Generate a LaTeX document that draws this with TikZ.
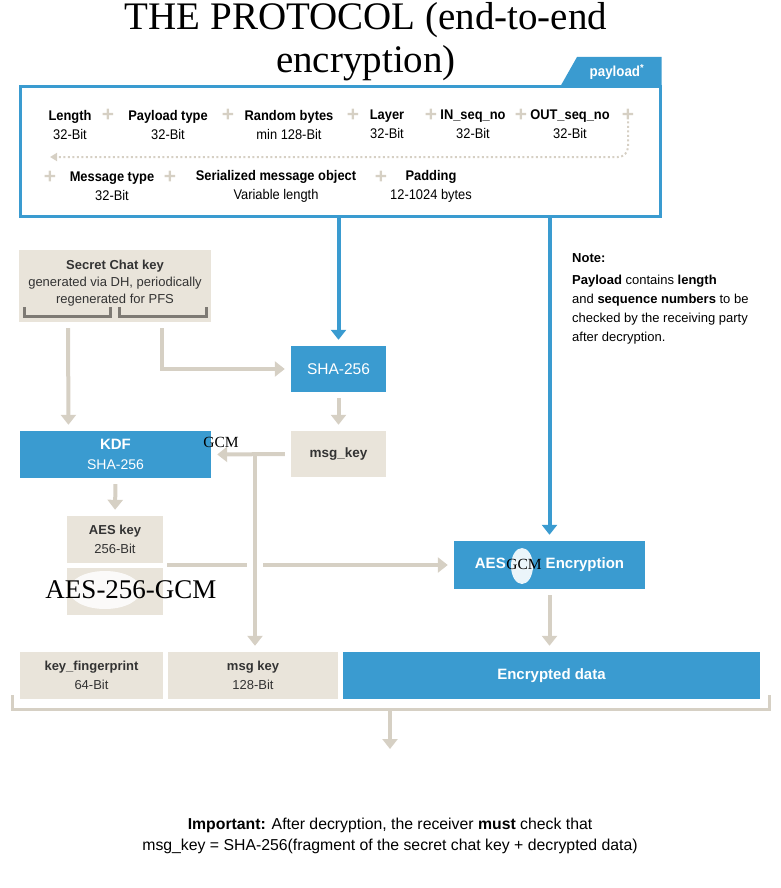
\documentclass[tikz,border=0pt]{standalone}
\usepackage{fontspec}
\setmainfont{Liberation Sans}
\newfontfamily\condfont[FakeStretch=0.92]{Liberation Sans}
\newfontfamily\seriffont{Liberation Serif}
\usetikzlibrary{arrows.meta}
\definecolor{tgblue}{HTML}{3A9BD0}
\definecolor{boxbeige}{HTML}{E9E4DA}
\definecolor{linebeige}{HTML}{D6D0C4}
\definecolor{bracketgray}{HTML}{7E7A74}
\definecolor{textdark}{HTML}{333333}
\tikzset{
  >={Triangle[width=15pt,length=10pt]},
  bluebox/.style={fill=tgblue, text=white, align=center, inner sep=0pt, font=\fontsize{14}{20}\selectfont},
  beigebox/.style={fill=boxbeige, text=textdark, align=center, inner sep=0pt, font=\fontsize{13}{19}\selectfont},
  field/.style={font=\condfont\fontsize{14}{19}\selectfont, align=center, inner sep=0pt},
  plussign/.style={font=\bfseries\fontsize{21}{21}\selectfont, text=linebeige, inner sep=0pt},
  flow/.style={->, line width=4pt, linebeige, shorten <=6pt, shorten >=6pt},
  blueflow/.style={->, line width=4pt, tgblue, shorten >=6pt},
}

\begin{document}
\begin{tikzpicture}[x=1pt, y=-1pt]
\useasboundingbox (0,0) rectangle (780,888);

\node[font=\seriffont\fontsize{39}{43}\selectfont, align=center] (title) at (366,42)
  {THE PROTOCOL (end-to-end\\encryption)};

% payload
\fill[tgblue] (560,87) -- (577,57) -- (661.5,57) -- (661.5,87) -- cycle;
\node[font=\condfont\bfseries\fontsize{14.5}{14.5}\selectfont, text=white] (tab) at (617,72) {payload\textsuperscript{*}};
\node[draw=tgblue, line width=3pt, minimum width=640, minimum height=129, inner sep=0pt] (payload) at (340,151.5) {};

\node[field] (length) at (70,124.5) {\textbf{Length}\\32-Bit};
\node[field] (ptype) at (168,124.5) {\textbf{Payload type}\\32-Bit};
\node[field] (rand) at (289,124.5) {\textbf{Random bytes}\\min 128-Bit};
\node[field] (layer) at (387,124.5) {\textbf{Layer}\\32-Bit};
\node[field] (inseq) at (473,124.5) {\textbf{IN\_seq\_no}\\32-Bit};
\node[field] (outseq) at (570,124.5) {\textbf{OUT\_seq\_no}\\32-Bit};
\node[plussign] (plusa) at (108,115) {+};
\node[plussign] (plusb) at (228,115) {+};
\node[plussign] (plusc) at (353,115) {+};
\node[plussign] (plusd) at (431,115) {+};
\node[plussign] (pluse) at (521,115) {+};
\node[plussign] (plusf) at (628,115) {+};

\coordinate (wrapend) at (50,157);
\draw[linebeige, line width=2pt, dash pattern=on 2pt off 2.5pt, rounded corners=10pt,
  -{Triangle[width=8pt,length=7pt]}] (plusf.south) |- (wrapend);

\node[plussign] (plusg) at (50,177) {+};
\node[plussign] (plush) at (170,177) {+};
\node[plussign] (plusi) at (381,177) {+};
\node[field] (msgtype) at (112,186.5) {\textbf{Message type}\\32-Bit};
\node[field] (serial) at (276,186.5) {\textbf{Serialized message object}\\Variable length};
\node[field] (padding) at (431,186.5) {\textbf{Padding}\\12-1024 bytes};

% note
\node[anchor=north west, align=left, inner sep=0pt, font=\fontsize{13}{19}\selectfont] (note) at (572,253)
  {\textbf{Note:}\\[3pt]\textbf{Payload} contains \textbf{length}\\and \textbf{sequence numbers} to be\\checked by the receiving party\\after decryption.};

% keys and hashes
\node[beigebox, minimum width=192, minimum height=72] (secret) at (115,286) {};
\node[align=center, text=textdark, font=\fontsize{13}{17}\selectfont] (secrettext) at ([yshift=3pt]secret.center)
  {\textbf{Secret Chat key}\\generated via DH, periodically\\regenerated for PFS};
\draw[bracketgray, line width=3pt] (24,307) -- (24,316) -- (110,316) -- (110,307);
\draw[bracketgray, line width=3pt] (119,307) -- (119,316) -- (206,316) -- (206,307);

\node[bluebox, minimum width=95, minimum height=46, font=\fontsize{15.5}{15.5}\selectfont] (sha) at (338.5,369) {SHA-256};
\node[beigebox, minimum width=95, minimum height=46, font=\bfseries\fontsize{13.5}{15}\selectfont] (msgkey) at (338.5,454) {msg\_key};
\node[bluebox, minimum width=191, minimum height=47] (kdf) at (115.5,454.5) {{\bfseries\fontsize{15}{20}\selectfont KDF}\\SHA-256};
\node[font=\seriffont\fontsize{15.5}{15.5}\selectfont] (gcma) at (221,442) {GCM};

\node[beigebox, minimum width=96, minimum height=47] (aeskey) at (115,539.5) {\textbf{AES key}\\256-Bit};
\node[beigebox, minimum width=96, minimum height=47] (aesblur) at (115,591.5) {};
\fill[white, opacity=0.85] (105,590) ellipse [x radius=36, y radius=19];
\node[font=\seriffont\fontsize{27}{27}\selectfont] (aesgcm) at (131,590) {AES-256-GCM};

\node[bluebox, minimum width=191, minimum height=48, font=\bfseries\fontsize{15}{15}\selectfont] (aesenc) at (549.5,565)
  {AES\hspace{40pt}Encryption};
\fill[white, opacity=0.9] (522,566) ellipse [x radius=11, y radius=18];
\node[font=\seriffont\fontsize{15.5}{15.5}\selectfont] (gcmb) at (524,564) {GCM};

\node[beigebox, minimum width=143, minimum height=47] (keyfp) at (91.5,675.5) {\textbf{key\_fingerprint}\\64-Bit};
\node[beigebox, minimum width=170, minimum height=47] (msgkeyb) at (253,675.5) {\textbf{msg key}\\128-Bit};
\node[bluebox, minimum width=417, minimum height=47, font=\bfseries\fontsize{15}{15}\selectfont] (encdata) at (551.5,675.5) {Encrypted data};

% connectors
\draw[blueflow] (payload.south -| sha.north) -- (sha.north);
\draw[blueflow] (payload.south -| aesenc.north) -- (aesenc.north);

\draw[flow] ([xshift=-47pt]secret.south) -- ([xshift=-47pt]kdf.north);
\draw[flow] ([xshift=47pt]secret.south) |- (sha.west);
\draw[flow] (sha.south) -- (msgkey.north);
\draw[flow] (msgkey.west) -- (kdf.east);
\draw[flow] (kdf.south) -- (aeskey.north);

\coordinate (aesout) at (167,565);
\coordinate (tap) at (255,455);
\draw[flow, shorten <=0pt] (aesout) -- (aesenc.west);
\draw[flow, shorten <=0pt, preaction={draw=white, line width=16pt, shorten <=10pt, shorten >=14pt}] (tap) -- (tap |- msgkeyb.north);
\draw[flow] (aesenc.south) -- (aesenc.south |- encdata.north);

% bottom
\draw[linebeige, line width=3pt] (12,695) |- (769,709) -- (769,695);
\coordinate (brkmid) at (390,709);
\coordinate (check) at (390,749);
\draw[flow, shorten <=0pt, shorten >=0pt] (brkmid) -- (check);

\node[align=center, font=\fontsize{15.8}{21}\selectfont] (important) at (390,836)
  {\textbf{Important:} After decryption, the receiver \textbf{must} check that\\msg\_key = SHA-256(fragment of the secret chat key + decrypted data)};
\end{tikzpicture}
\end{document}
